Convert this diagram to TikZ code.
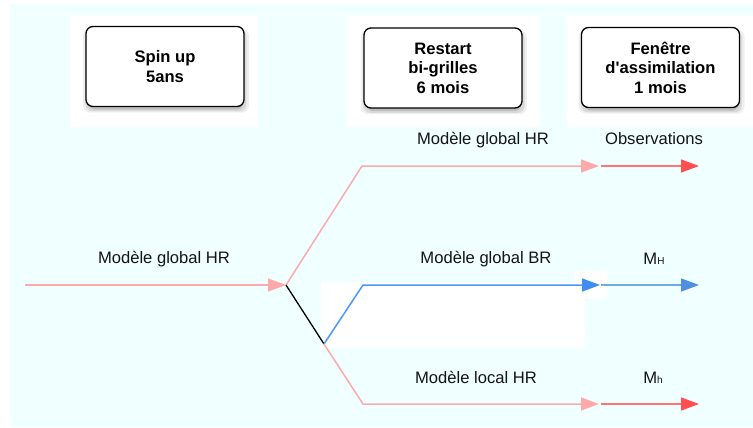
\documentclass[tikz,border=0pt]{standalone}
\usepackage{fontspec}
\newfontfamily\labfont{Liberation Sans}
\usetikzlibrary{arrows.meta,shadows}
\definecolor{bgc}{HTML}{F0FFFF}
\definecolor{pinkc}{HTML}{FFAAAA}
\definecolor{redl}{HTML}{FF7474}
\definecolor{redh}{HTML}{FF4F4F}
\definecolor{bluea}{HTML}{4A98FA}
\definecolor{blueah}{HTML}{3F8CF2}
\definecolor{blueb}{HTML}{72A8E6}
\definecolor{bluebh}{HTML}{4F8FE0}
\begin{document}
\begin{tikzpicture}[x=1pt,y=-1pt,
  phasebox/.style={draw=black,line width=1.3pt,fill=white,rounded corners=7pt,
    minimum width=158pt,minimum height=80pt,align=center,
    font=\labfont\fontsize{16.6}{19.5}\selectfont\bfseries,
    drop shadow={shadow xshift=1pt,shadow yshift=-4pt,opacity=.12,shadow scale=1.05},
    drop shadow={shadow xshift=1pt,shadow yshift=-4pt,opacity=.18,shadow scale=1.02},
    drop shadow={shadow xshift=1pt,shadow yshift=-4pt,opacity=.3,shadow scale=0.98}},
  lbl/.style={anchor=base,inner sep=0pt,font=\labfont\fontsize{16.6}{19}\selectfont,text=black!92},
  tipp/.style={-{Triangle[length=18pt,width=13pt]}},
  ln/.style={line width=1.5pt}]
\useasboundingbox (0,0) rectangle (753,428);
% backgrounds
\fill[white] (0,0) rectangle (753,428);
\fill[bgc] (10,4) rectangle (753,427);
\fill[white] (70,16) rectangle (258,127);
\fill[white] (347,16) rectangle (540,127);
\fill[white] (567,16) rectangle (753,127);
\fill[white] (321,282) rectangle (585,348);
\fill[white] (574,271) rectangle (607,299);
% boxes
\node[phasebox] (spin) at (165,66.5) {Spin up\\5ans};
\node[phasebox] (restart) at (443,68) {Restart\\bi-grilles\\6 mois};
\node[phasebox] (fenetre) at (660.5,67.5) {Fenêtre\\d'assimilation\\1 mois};
% coordinates
\coordinate (start) at (25,285);
\coordinate (J) at (286,285);
\coordinate (K) at (324,344);
\coordinate (t1) at (362,166);
\coordinate (t2) at (599,166);
\coordinate (t3) at (601,166);
\coordinate (t4) at (699,166);
\coordinate (b1) at (363,285);
\coordinate (b2) at (600,285);
\coordinate (b3) at (601,285);
\coordinate (b4) at (699,285);
\coordinate (l1) at (363,404);
\coordinate (l2) at (599,404);
\coordinate (l3) at (601,404);
\coordinate (l4) at (699,404);
% connectors
\draw[ln,draw=pinkc,tipp] (start) -- (J);
\draw[ln,draw=pinkc,tipp] (J) -- (t1) -- (t2);
\draw[ln,draw=redl,-{Triangle[length=18pt,width=13pt,color=redh]}] (t3) -- (t4);
\draw[line width=1.3pt,draw=black] (J) -- (K);
\draw[ln,draw=bluea,-{Triangle[length=18pt,width=13pt,color=blueah]}] (K) -- (b1) -- (b2);
\draw[ln,draw=blueb,-{Triangle[length=18pt,width=13pt,color=bluebh]}] (b3) -- (b4);
\draw[ln,draw=pinkc,tipp] (K) -- (l1) -- (l2);
\draw[ln,draw=redl,-{Triangle[length=18pt,width=13pt,color=redh]}] (l3) -- (l4);
% labels
\node[lbl] (lin) at (164,263) {Modèle global HR};
\node[lbl] (lghr) at (483,144) {Modèle global HR};
\node[lbl] (lobs) at (654,144) {Observations};
\node[lbl] (lgbr) at (486,263) {Modèle global BR};
\node[lbl] (lmH) at (654,264) {M{\fontsize{10}{12}\selectfont H}};
\node[lbl] (llhr) at (476,383) {Modèle local HR};
\node[lbl] (lmh) at (653,383) {M{\fontsize{10}{12}\selectfont h}};
\end{tikzpicture}
\end{document}
